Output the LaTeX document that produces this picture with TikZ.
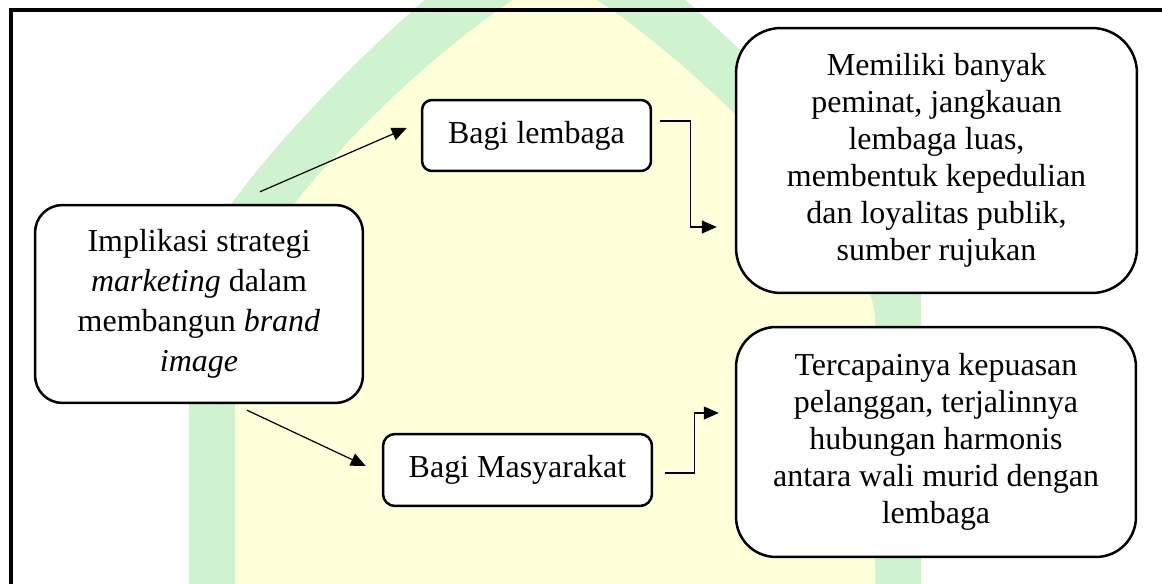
\documentclass[tikz,border=0pt]{standalone}
\usepackage{fontspec}
\setmainfont{Liberation Serif}
\usetikzlibrary{arrows.meta}
\definecolor{wmgreen}{RGB}{207,243,207}
\definecolor{wmyellow}{RGB}{255,255,217}
\begin{document}
\begin{tikzpicture}[x=0.02cm,y=-0.02cm,
  every node/.style={font=\fontsize{18.2}{21}\selectfont},
  box/.style={draw,line width=0.05cm,fill=white,align=center,inner sep=0pt},
  arr/.style={-{Triangle[length=0.3cm,width=0.26cm]},line width=0.7pt}]
\useasboundingbox (0,0) rectangle (1162,584);
% watermark arch behind the chart
\begin{scope}
\clip (0,0) rectangle (1162,584);
\fill[wmgreen] (189,600) -- (189,290) .. controls (189,220) and (400,0) .. (555,-100) .. controls (710,0) and (921,220) .. (921,290) -- (921,600) -- cycle;
\fill[wmyellow] (235,600) -- (235,320) .. controls (235,240) and (430,40) .. (555,-25) .. controls (680,40) and (875,240) .. (875,320) -- (875,600) -- cycle;
\end{scope}
\draw[line width=0.08cm] (11,584) -- (11,10) -- (1162,10);
\node[box,rounded corners=0.55cm,minimum width=6.56cm,minimum height=3.96cm,font=\fontsize{18.2}{22.8}\selectfont] (imp) at (199,304) {Implikasi strategi\\\textit{marketing} dalam\\membangun \textit{brand}\\\textit{image}};
\node[box,rounded corners=0.2cm,minimum width=4.58cm,minimum height=1.42cm] (lemb) at (536.5,135.5) {Bagi lembaga};
\node[box,rounded corners=0.24cm,minimum width=5.38cm,minimum height=1.44cm] (masy) at (517.5,470) {Bagi Masyarakat};
\node[box,rounded corners=0.9cm,minimum width=8.02cm,minimum height=5.3cm] (hasil1) at (936.5,160.5) {Memiliki banyak\\peminat, jangkauan\\lembaga luas,\\membentuk kepedulian\\dan loyalitas publik,\\sumber rujukan};
\node[box,rounded corners=0.8cm,minimum width=8cm,minimum height=4.6cm] (hasil2) at (936,442) {Tercapainya kepuasan\\pelanggan, terjalinnya\\hubungan harmonis\\antara wali murid dengan\\lembaga};
\draw[arr] ([shift={(61,-12)}]imp.north) -- ([shift={(-14,-7.5)}]lemb.west);
\draw[arr] ([shift={(48,6)}]imp.south) -- ([shift={(-16,-4)}]masy.west);
\draw[arr] ([shift={(8,-14.5)}]lemb.east) -- ++(30,0) |- ([shift={(-18,66.5)}]hasil1.west);
\draw[arr] ([shift={(12,3)}]masy.east) -- ++(29,0) |- ([shift={(-16,-29)}]hasil2.west);
\end{tikzpicture}
\end{document}
